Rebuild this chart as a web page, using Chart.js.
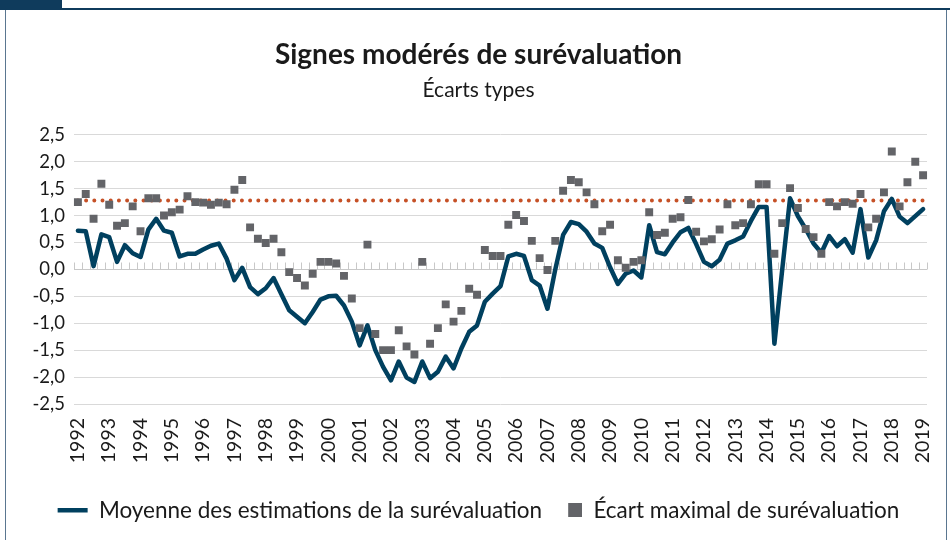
<!DOCTYPE html>
<html lang="fr">
<head>
<meta charset="utf-8">
<title>Signes modérés de surévaluation</title>
<script src="https://cdn.jsdelivr.net/npm/chart.js@4.4.1/dist/chart.umd.min.js"></script>
<style>
  html, body { margin: 0; padding: 0; background: #fff; }
  #cadre { position: relative; width: 950px; height: 540px; overflow: hidden; }
  #onglet { position: absolute; left: 0; top: 0; width: 62px; height: 10px; background: #0f3b5c; }
  #filet-haut { position: absolute; left: 62px; top: 8px; width: 888px; height: 2px; background: #0f3b5c; }
  #filet-gauche { position: absolute; left: 5px; top: 10px; width: 1px; height: 530px; background: #5a7690; }
  #filet-droit { position: absolute; left: 946px; top: 10px; width: 1px; height: 530px; background: #5a7690; }
  canvas { position: absolute; left: 0; top: 0; }
</style>
</head>
<body>
<div id="cadre">
  <canvas id="graphique" width="950" height="540"></canvas>
  <div id="onglet"></div>
  <div id="filet-haut"></div>
  <div id="filet-gauche"></div>
  <div id="filet-droit"></div>
</div>
<script>
// Années affichées sous l'axe (une étiquette tous les 4 trimestres)
const ANNEES = ['1992', '1993', '1994', '1995', '1996', '1997', '1998', '1999', '2000',
  '2001', '2002', '2003', '2004', '2005', '2006', '2007', '2008', '2009', '2010',
  '2011', '2012', '2013', '2014', '2015', '2016', '2017', '2018', '2019'];

// Moyenne des estimations de la surévaluation (T1 1992 -> T1 2019)
const MOYENNE = [
  0.72, 0.71, 0.06, 0.65, 0.60, 0.14, 0.45, 0.30, 0.23, 0.74,
  0.94, 0.72, 0.68, 0.24, 0.29, 0.29, 0.37, 0.44, 0.48, 0.20,
  -0.20, 0.03, -0.33, -0.46, -0.35, -0.16, -0.46, -0.76, -0.88, -1.00,
  -0.79, -0.56, -0.50, -0.49, -0.67, -0.97, -1.41, -1.04, -1.50, -1.81,
  -2.06, -1.71, -2.01, -2.09, -1.71, -2.02, -1.90, -1.62, -1.84, -1.47,
  -1.16, -1.04, -0.60, -0.45, -0.31, 0.24, 0.29, 0.25, -0.20, -0.30,
  -0.73, 0.00, 0.64, 0.88, 0.84, 0.70, 0.48, 0.40, 0.04, -0.27,
  -0.08, -0.02, -0.15, 0.82, 0.32, 0.28, 0.50, 0.69, 0.77, 0.47,
  0.14, 0.06, 0.18, 0.48, 0.54, 0.61, 0.90, 1.16, 1.16, -1.38,
  0.00, 1.32, 0.99, 0.75, 0.48, 0.31, 0.62, 0.43, 0.56, 0.31,
  1.12, 0.22, 0.54, 1.08, 1.31, 0.98, 0.86, 0.99, 1.12
];

// Écart maximal de surévaluation
const ECART_MAX = [
  1.25, 1.40, 0.94, 1.59, 1.20, 0.81, 0.86, 1.17, 0.71, 1.32,
  1.32, 1.00, 1.06, 1.11, 1.36, 1.25, 1.24, 1.20, 1.24, 1.21,
  1.48, 1.66, 0.78, 0.57, 0.49, 0.57, 0.32, -0.05, -0.16, -0.30,
  -0.08, 0.14, 0.14, 0.11, -0.12, -0.54, -1.09, 0.46, -1.20, -1.50,
  -1.50, -1.13, -1.43, -1.58, 0.14, -1.38, -1.09, -0.65, -0.97, -0.77,
  -0.36, -0.47, 0.36, 0.25, 0.25, 0.83, 1.01, 0.90, 0.53, 0.21,
  -0.01, 0.53, 1.46, 1.66, 1.62, 1.43, 1.21, 0.71, 0.83, 0.17,
  0.03, 0.14, 0.17, 1.06, 0.64, 0.68, 0.94, 0.97, 1.29, 0.70,
  0.52, 0.56, 0.74, 1.21, 0.82, 0.86, 1.21, 1.58, 1.58, 0.29,
  0.86, 1.51, 1.14, 0.75, 0.60, 0.29, 1.25, 1.17, 1.25, 1.22,
  1.40, 0.78, 0.94, 1.43, 2.19, 1.17, 1.62, 2.00, 1.75
];

// Seuil de surévaluation (ligne pointillée)
const SEUIL = 1.28;

// Trimestres : T1 1992 ... T1 2019
const TRIMESTRES = [];
ANNEES.forEach(a => {
  const n = a === '2019' ? 1 : 4;
  for (let t = 1; t <= n; t++) TRIMESTRES.push(`T${t} ${a}`);
});

const BLEU = '#00405f';
const GRIS = '#636468';
const ORANGE = '#c65127';
const POLICE = 'Lato';

// Petit carré pour la légende (aligné à droite de la case)
const carreLegende = document.createElement('canvas');
carreLegende.width = 30;
carreLegende.height = 14;
const cctx = carreLegende.getContext('2d');
cctx.fillStyle = GRIS;
cctx.fillRect(16, 0, 14, 14);

// Axe horizontal à zéro avec graduations entre les trimestres
const axeZero = {
  id: 'axeZero',
  beforeDatasetsDraw(chart) {
    const { ctx, chartArea, scales: { x, y } } = chart;
    const y0 = Math.round(y.getPixelForValue(0)) + 0.5;
    const pas = x.getPixelForValue(1) - x.getPixelForValue(0);
    ctx.save();
    ctx.strokeStyle = '#c8c8c8';
    ctx.lineWidth = 1;
    ctx.beginPath();
    ctx.moveTo(chartArea.left, y0);
    ctx.lineTo(chartArea.right, y0);
    for (let i = 0; i <= TRIMESTRES.length; i++) {
      const px = Math.round(x.getPixelForValue(i) - pas / 2) + 0.5;
      ctx.moveTo(px, y0);
      ctx.lineTo(px, y0 - 7);
    }
    ctx.stroke();
    ctx.restore();
  }
};

const ctx = document.getElementById('graphique').getContext('2d');
new Chart(ctx, {
  type: 'line',
  data: {
    labels: TRIMESTRES,
    datasets: [
      {
        label: 'Moyenne des estimations de la surévaluation',
        data: MOYENNE,
        borderColor: BLEU,
        backgroundColor: BLEU,
        borderWidth: 4.5,
        borderJoinStyle: 'round',
        borderCapStyle: 'round',
        pointRadius: 0,
        tension: 0,
        order: 1
      },
      {
        label: 'Écart maximal de surévaluation',
        data: ECART_MAX,
        showLine: false,
        pointStyle: 'rect',
        pointRadius: 5.6,
        pointBorderWidth: 0,
        pointBackgroundColor: GRIS,
        backgroundColor: GRIS,
        borderColor: GRIS,
        order: 0
      },
      {
        label: 'Seuil',
        data: TRIMESTRES.map(() => SEUIL),
        borderColor: ORANGE,
        borderWidth: 4,
        borderDash: [0, 8.2],
        borderCapStyle: 'round',
        pointRadius: 0,
        order: 2
      }
    ]
  },
  options: {
    responsive: false,
    animation: false,
    devicePixelRatio: 1,
    layout: { padding: { left: 15, right: 8, top: 0, bottom: 8.5 } },
    scales: {
      x: {
        offset: true,
        grid: { display: false, drawTicks: false },
        border: { display: false },
        ticks: {
          autoSkip: false,
          minRotation: 90,
          maxRotation: 90,
          padding: 14,
          color: '#1a1a1a',
          font: { family: POLICE, size: 19.5 },
          callback: (v, i) => (i % 4 === 0 ? ANNEES[i / 4] : '')
        },
        afterFit: s => {
          s.height = 85;
          s.paddingLeft = 0;
          s.paddingRight = 0;
        }
      },
      y: {
        min: -2.5,
        max: 2.5,
        grid: { color: '#d9d9d9', lineWidth: 1, drawTicks: false },
        border: { display: false },
        ticks: {
          stepSize: 0.5,
          padding: 9,
          color: '#1a1a1a',
          font: { family: POLICE, size: 18.5 },
          callback: v => v.toFixed(1).replace('.', ',')
        },
        afterFit: s => { s.width = 59; }
      },
      y2: {
        position: 'right',
        grid: { display: false, drawTicks: false },
        border: { display: false },
        ticks: { display: false },
        afterFit: s => { s.width = 15; }
      }
    },
    plugins: {
      title: {
        display: true,
        text: 'Signes modérés de surévaluation',
        color: '#1a1a1a',
        font: { family: POLICE, size: 28, weight: 'bold' },
        padding: { top: 38, bottom: 4 }
      },
      subtitle: {
        display: true,
        text: 'Écarts types',
        color: '#1a1a1a',
        font: { family: POLICE, size: 21 },
        padding: { top: 2, bottom: 32 }
      },
      legend: {
        position: 'bottom',
        labels: {
          usePointStyle: true,
          pointStyleWidth: 30,
          boxHeight: 22,
          padding: 10,
          color: '#1a1a1a',
          font: { family: POLICE, size: 22.5 },
          sort: (a, b) => a.datasetIndex - b.datasetIndex,
          filter: item => item.text !== 'Seuil',
          generateLabels: chart => {
            const items = Chart.defaults.plugins.legend.labels.generateLabels(chart);
            items.forEach(it => {
              if (it.datasetIndex === 0) { it.pointStyle = 'line'; it.lineWidth = 4.5; }
              if (it.datasetIndex === 1) { it.pointStyle = carreLegende; }
            });
            return items;
          }
        }
      },
      tooltip: { enabled: false }
    }
  },
  plugins: [axeZero]
});
</script>
</body>
</html>
